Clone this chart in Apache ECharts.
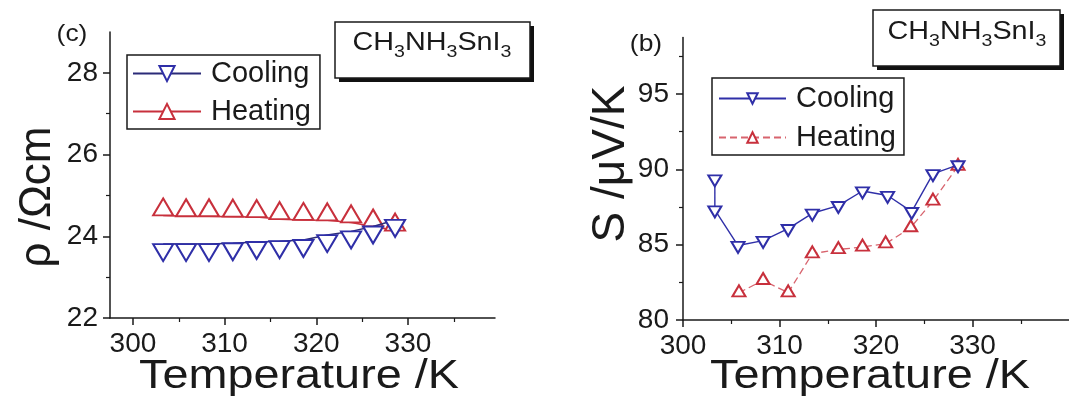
<!DOCTYPE html>
<html><head><meta charset="utf-8">
<script src="https://cdn.jsdelivr.net/npm/echarts@6/dist/echarts.min.js"></script>
<style>html,body{margin:0;padding:0;background:#fff}#c{width:1069px;height:398px}</style>
</head><body><div id="c"></div>
<script>
// ---- data ----
const rhoTemp      = [303.3, 305.8, 308.3, 310.9, 313.5, 316.0, 318.6, 321.2, 323.8, 326.2, 328.6];
const rhoCooling   = [23.81, 23.81, 23.81, 23.83, 23.86, 23.88, 23.91, 24.03, 24.12, 24.24, 24.40];
const rhoHeating   = [24.51, 24.49, 24.49, 24.48, 24.47, 24.42, 24.40, 24.39, 24.34, 24.24, 24.14];
const sCoolTemp    = [303.3, 303.3, 305.7, 308.3, 310.9, 313.4, 316.1, 318.6, 321.2, 323.7, 325.9, 328.5];
const sCooling     = [89.36, 87.30, 84.94, 85.27, 86.06, 87.08, 87.59, 88.56, 88.26, 87.19, 89.70, 90.29];
const sHeatTemp    = [305.8, 308.3, 310.9, 313.4, 316.1, 318.6, 321.0, 323.6, 325.9, 328.5];
const sHeating     = [81.81, 82.63, 81.81, 84.40, 84.68, 84.84, 85.06, 86.13, 87.90, 90.20];
const xMajorTicks  = [300, 310, 320, 330];
const xMinorTicks  = [305, 315, 325, 335];
const rhoMajorTicks = [22, 24, 26, 28];
const rhoMinorTicks = [23, 25, 27];
const sMajorTicks  = [80, 85, 90, 95];
const sMinorTicks  = [82.5, 87.5, 92.5, 97.5];
const seriesNames  = ['Cooling', 'Heating'];
const compound     = 'CH{s|3}NH{s|3}SnI{s|3}';

const zip = (a, b) => a.map((v, i) => [v, b[i]]);
const FONT = 'Liberation Sans, Arial, sans-serif';
const INK = '#1a1a1a';
const BLUE = '#2f2fa8', BLUE_LINE = '#2b2b78', RED = '#c8303c', PINK = '#d8646e';

function axisPair(kind, grid, min, max, major, minor, labelSize, margin) {
  const base = { gridIndex: grid, type: 'value', min, max, scale: true,
    splitLine: { show: false } };
  base.position = kind === 'x' ? 'bottom' : 'left';
  const main = Object.assign({}, base, {
    axisLine: { show: true, onZero: false, lineStyle: { color: INK, width: 1.5 } },
    axisTick: { show: true, inside: false, length: 7, customValues: major, lineStyle: { color: INK, width: 1.5 } },
    axisLabel: { show: true, customValues: major, margin, fontSize: labelSize, fontFamily: FONT, color: INK }
  });
  const sub = Object.assign({}, base, {
    axisLine: { show: false, onZero: false },
    axisTick: { show: true, inside: false, length: 4, customValues: minor, lineStyle: { color: INK, width: 1.2 } },
    axisLabel: { show: false }
  });
  return [main, sub];
}

const xAxes = [
  ...axisPair('x', 0, 297.5, 339.5, xMajorTicks, xMinorTicks, 28, 12),
  ...axisPair('x', 1, 300, 340, xMajorTicks, xMinorTicks, 28, 12)
];
const yAxes = [
  ...axisPair('y', 0, 22, 29, rhoMajorTicks, rhoMinorTicks, 28, 12),
  ...axisPair('y', 1, 80, 98.75, sMajorTicks, sMinorTicks, 28, 14)
];

function lineSeries(name, xi, yi, data, opts) {
  return Object.assign({
    name, type: 'line', xAxisIndex: xi, yAxisIndex: yi, data,
    symbol: 'emptyTriangle', animation: false, clip: false
  }, opts);
}

const series = [
  lineSeries(seriesNames[1], 0, 0, zip(rhoTemp, rhoHeating), {
    symbolSize: [20, 17], symbolOffset: [0, '-50%'],
    itemStyle: { color: RED, borderWidth: 1.6 },
    lineStyle: { color: RED, width: 1.5 }, z: 2
  }),
  lineSeries(seriesNames[0], 0, 0, zip(rhoTemp, rhoCooling), {
    symbolSize: [20, 17], symbolRotate: 180, symbolOffset: [0, '50%'],
    itemStyle: { color: BLUE, borderWidth: 1.6 },
    lineStyle: { color: BLUE_LINE, width: 1.5 }, z: 3
  }),
  lineSeries(seriesNames[1] + ' (S)', 2, 2, zip(sHeatTemp, sHeating), {
    symbolSize: [13, 11], symbolOffset: [0, '-17%'],
    itemStyle: { color: RED, borderWidth: 1.5 },
    lineStyle: { color: PINK, width: 1.3, type: [7, 4] }, z: 2
  }),
  lineSeries(seriesNames[0] + ' (S)', 2, 2, zip(sCoolTemp, sCooling), {
    symbolSize: [13, 11], symbolRotate: 180, symbolOffset: [0, '17%'],
    itemStyle: { color: BLUE, borderWidth: 1.5 },
    lineStyle: { color: BLUE, width: 1.4 }, z: 3
  })
];

const legendBase = {
  orient: 'vertical', backgroundColor: '#fff', borderColor: INK, borderWidth: 1.5,
  borderRadius: 0, selectedMode: false,
  textStyle: { fontSize: 29, fontFamily: FONT, color: INK, padding: [0, 0, 0, 5] },
  formatter: n => n.replace(' (S)', '')
};
const legends = [
  Object.assign({}, legendBase, { data: seriesNames, left: 127, top: 55,
    itemWidth: 68, itemHeight: 19, itemGap: 9, padding: [4, 9, 3, 5] }),
  Object.assign({}, legendBase, { data: seriesNames.map(n => n + ' (S)'), left: 712, top: 78,
    itemWidth: 67, itemHeight: 13, itemGap: 10, padding: [6, 8, 3, 6] })
];

function compoundBox(x, y, w, h, cx, ty) {
  return {
    type: 'group', children: [
      { type: 'rect', shape: { x: x + 4, y: y + 4, width: w, height: h }, style: { fill: '#111' } },
      { type: 'rect', shape: { x, y, width: w, height: h }, style: { fill: '#fff', stroke: INK, lineWidth: 1.5 } },
      { type: 'text', x: cx, y: ty, scaleX: 1.15,
        style: { x: 0, y: 0, text: compound, align: 'center', verticalAlign: 'top',
          fill: INK, fontFamily: FONT, fontSize: 25,
          rich: { s: { fontSize: 17, fontFamily: FONT, fill: INK, verticalAlign: 'top', padding: [18, 0, 0, 0] } } } }
    ]
  };
}
function label(text, x, y, size, rot, sx) {
  return { type: 'text', x, y, rotation: rot || 0, scaleX: sx || 1,
    style: { text, x: 0, y: 0, align: 'center', verticalAlign: 'middle', fill: INK, fontFamily: FONT, fontSize: size } };
}

const option = {
  backgroundColor: '#fff',
  animation: false,
  grid: [
    { left: 110, top: 32, width: 385, height: 286 },
    { left: 683, top: 37.4, width: 394, height: 282.6 }
  ],
  xAxis: xAxes,
  yAxis: yAxes,
  legend: legends,
  series,
  graphic: [
    compoundBox(335, 22, 195, 56, 432, 26),
    compoundBox(873, 10, 187, 56, 967, 15),
    label('(c)', 72, 34, 24, 0, 1.1),
    label('(b)', 646, 44, 24, 0, 1.1),
    label('ρ /Ωcm', 38, 197, 44, Math.PI / 2),
    label('S /μV/K', 611, 164, 46, Math.PI / 2),
    label('Temperature /K', 299, 377, 40, 0, 1.17),
    label('Temperature /K', 870, 377, 40, 0, 1.17)
  ]
};
const chart = echarts.init(document.getElementById('c'), null, { renderer: 'canvas' });
chart.setOption(option);
</script>
</body></html>
